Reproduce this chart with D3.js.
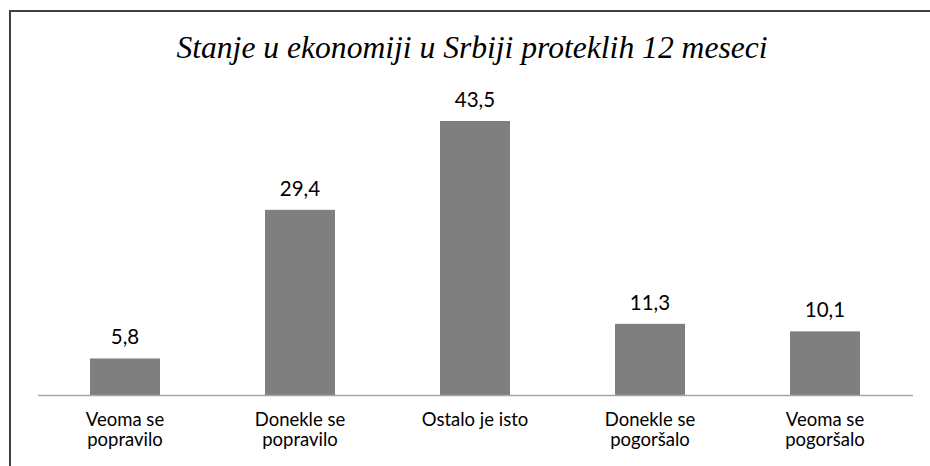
<!doctype html>
<html>
    <head>
        <meta charset="UTF-8">
        <title>Stanje u ekonomiji</title>
        <script src="https://cdn.jsdelivr.net/npm/d3@7"></script>
        <style>
            html, body { margin: 0; padding: 0; background: #ffffff; }
            svg { display: block; }
        </style>
    </head>
    <body>
        <div id="chart"></div>
        <script>
            const title = "Stanje u ekonomiji u Srbiji proteklih 12 meseci";
            const categories = [
                ["Veoma se", "popravilo"],
                ["Donekle se", "popravilo"],
                ["Ostalo je isto"],
                ["Donekle se", "pogoršalo"],
                ["Veoma se", "pogoršalo"],
            ];
            const values = [5.8, 29.4, 43.5, 11.3, 10.1];
            const valueLabels = ["5,8", "29,4", "43,5", "11,3", "10,1"];

            const width = 930, height = 466;
            const baseY = 395;

            const svg = d3.select("#chart")
                .append("svg")
                .attr("width", width)
                .attr("height", height);

            // frame: only top and left edges show
            svg.append("path")
                .attr("d", `M10,${height} L10,11 L${width},11`)
                .attr("fill", "none")
                .attr("stroke", "#404040")
                .attr("stroke-width", 2);

            svg.append("text")
                .attr("x", 472)
                .attr("y", 58)
                .attr("text-anchor", "middle")
                .style("font-family", "'Liberation Serif', serif")
                .style("font-style", "italic")
                .style("font-size", "31.6px")
                .style("fill", "#000")
                .text(title);

            const x = d3.scaleBand()
                .domain(d3.range(values.length))
                .range([37.5, 912.5])
                .paddingInner(0.6)
                .paddingOuter(0.3);

            const y = d3.scaleLinear()
                .domain([0, 43.5])
                .range([baseY, 121]);

            svg.selectAll("rect.bar")
                .data(values)
                .join("rect")
                .attr("class", "bar")
                .attr("x", (d, i) => x(i))
                .attr("y", d => y(d))
                .attr("width", x.bandwidth())
                .attr("height", d => baseY - y(d))
                .attr("fill", "#7f7f7f");

            svg.selectAll("text.val")
                .data(values)
                .join("text")
                .attr("class", "val")
                .attr("x", (d, i) => x(i) + x.bandwidth() / 2)
                .attr("y", d => y(d) - 14)
                .attr("text-anchor", "middle")
                .style("font-family", "Lato, sans-serif")
                .style("font-size", "20.5px")
                .style("fill", "#000")
                .text((d, i) => valueLabels[i]);

            // x axis line, no ticks
            const axis = svg.append("g")
                .attr("transform", `translate(0,${baseY})`)
                .call(d3.axisBottom(x).tickSize(0).tickFormat(""));
            axis.select(".domain")
                .attr("stroke", "#a6a6a6")
                .attr("stroke-width", 1.5);

            const cats = svg.selectAll("text.cat")
                .data(categories)
                .join("text")
                .attr("class", "cat")
                .attr("text-anchor", "middle")
                .style("font-family", "Lato, sans-serif")
                .style("font-size", "18.5px")
                .style("fill", "#000");

            cats.selectAll("tspan")
                .data((d, i) => d.map(t => ({ t, i })))
                .join("tspan")
                .attr("x", d => x(d.i) + x.bandwidth() / 2)
                .attr("y", (d, j) => 426 + j * 20)
                .text(d => d.t);
        </script>
    </body>
</html>
